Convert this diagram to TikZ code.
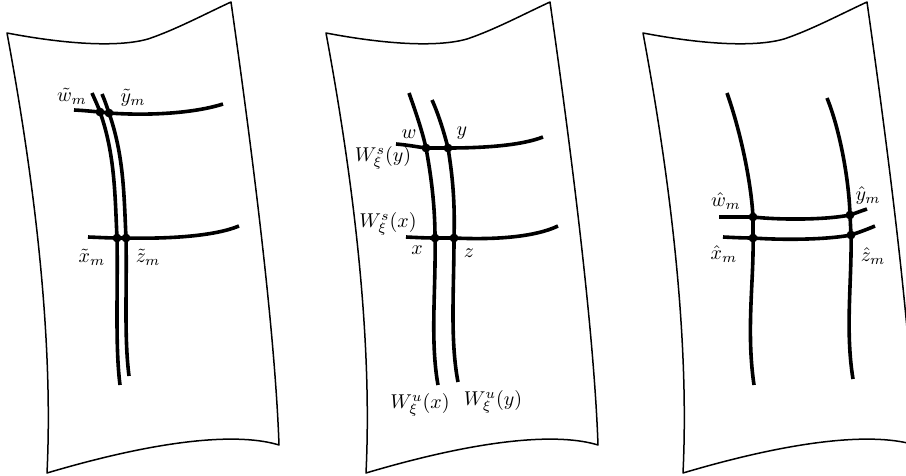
\documentclass[tikz,border=0pt]{standalone}
\usepackage{amsmath}
\begin{document}
\begin{tikzpicture}[x=0.5pt,y=-0.5pt,
  sheetline/.style={line width=0.75pt,line join=round},
  leaf/.style={line width=1.8pt},
  dot/.style={circle,fill=black,inner sep=0pt,minimum size=4.4pt},
  lbl/.style={inner sep=0pt}]
\clip (0,0) rectangle (906,476);
% sheets
\foreach \s in {0,319,636}{
  \draw[sheetline,shift={(\s,0)}] (7,33) .. controls (70,45) and (120,47) .. (148,39)
    .. controls (175,30) and (205,14) .. (231,2)
    .. controls (252,150) and (275,330) .. (279,445)
    .. controls (240,433) and (165,438) .. (47,473)
    .. controls (53,350) and (38,200) .. (7,33) -- cycle;
}
% ---------- sheet 1 ----------
\coordinate (w1) at (100,112);
\coordinate (y1) at (109,113);
\coordinate (x1) at (117,238);
\coordinate (z1) at (126,238);
\draw[leaf] (92,93) .. controls (95,100) and (98,106) .. (w1)
  .. controls (115,154) and (115,196) .. (x1)
  .. controls (118,290) and (115,345) .. (120,385);
\draw[leaf] (102,94) .. controls (105,101) and (107,107) .. (y1)
  .. controls (124,156) and (124,196) .. (z1)
  .. controls (127,290) and (124,336) .. (129,376);
\draw[leaf] (74,110) .. controls (85,110.5) and (93,111.5) .. (w1)
  .. controls (103,112.3) and (106,112.7) .. (y1)
  .. controls (150,116) and (195,113) .. (223,104);
\draw[leaf] (88,237) .. controls (100,237.5) and (110,238) .. (x1) -- (z1)
  .. controls (170,239) and (215,236) .. (239,226);
\node[dot] (dw1) at (w1) {};
\node[dot] (dy1) at (y1) {};
\node[dot] (dx1) at (x1) {};
\node[dot] (dz1) at (z1) {};
\node[lbl] (lw1) at (72,96) {$\tilde w_m$};
\node[lbl] (ly1) at (133,98) {$\tilde y_m$};
\node[lbl] (lx1) at (92,257) {$\tilde x_m$};
\node[lbl] (lz1) at (148,257) {$\tilde z_m$};
% ---------- sheet 2 ----------
\coordinate (w2) at (426,148);
\coordinate (y2) at (448,148);
\coordinate (x2) at (435,238);
\coordinate (z2) at (454,238);
\draw[leaf] (409,93) .. controls (415,110) and (422,130) .. (w2)
  .. controls (431,175) and (435,205) .. (x2)
  .. controls (436,290) and (430,340) .. (438,385);
\draw[leaf] (432,100) .. controls (438,113) and (444,132) .. (y2)
  .. controls (453,178) and (455,205) .. (z2)
  .. controls (454,290) and (450,340) .. (458,382);
\draw[leaf] (396,144) .. controls (408,145) and (418,147) .. (w2) -- (y2)
  .. controls (480,148) and (520,146) .. (543,137);
\draw[leaf] (406,237) .. controls (416,237.5) and (426,238) .. (x2) -- (z2)
  .. controls (495,240) and (535,237) .. (558,226);
\node[dot] (dw2) at (w2) {};
\node[dot] (dy2) at (y2) {};
\node[dot] (dx2) at (x2) {};
\node[dot] (dz2) at (z2) {};
\node[lbl] (lw2) at (409,134) {$w$};
\node[lbl] (ly2) at (462,133) {$y$};
\node[lbl] (lsy) at (383,158) {$W^s_\xi(y)$};
\node[lbl] (lsx) at (388,224) {$W^s_\xi(x)$};
\node[lbl] (lx2) at (417,250) {$x$};
\node[lbl] (lz2) at (469,253) {$z$};
\node[lbl] (lux) at (420,405) {$W^u_\xi(x)$};
\node[lbl] (luy) at (493,402) {$W^u_\xi(y)$};
% ---------- sheet 3 ----------
\coordinate (w3) at (753,217);
\coordinate (x3) at (753,238);
\coordinate (y3) at (850,215);
\coordinate (z3) at (851,235);
\draw[leaf] (727,93) .. controls (740,130) and (751,180) .. (w3) -- (x3)
  .. controls (754,280) and (746,330) .. (754,385);
\draw[leaf] (827,98) .. controls (840,130) and (849,180) .. (y3) -- (z3)
  .. controls (852,280) and (845,330) .. (853,379);
\draw[leaf] (719,217) .. controls (730,217) and (742,217) .. (w3)
  .. controls (780,220) and (825,220) .. (y3)
  .. controls (856,213) and (861,211) .. (867,209);
\draw[leaf] (723,237) .. controls (733,237.5) and (743,238) .. (x3)
  .. controls (780,240) and (825,240) .. (z3)
  .. controls (860,232) and (868,229) .. (875,226);
\node[dot] (dw3) at (w3) {};
\node[dot] (dy3) at (y3) {};
\node[dot] (dx3) at (x3) {};
\node[dot] (dz3) at (z3) {};
\node[lbl] (lw3) at (726,201) {$\hat w_m$};
\node[lbl] (ly3) at (868,196) {$\hat y_m$};
\node[lbl] (lx3) at (724,254) {$\hat x_m$};
\node[lbl] (lz3) at (873,256) {$\hat z_m$};
\end{tikzpicture}
\end{document}
